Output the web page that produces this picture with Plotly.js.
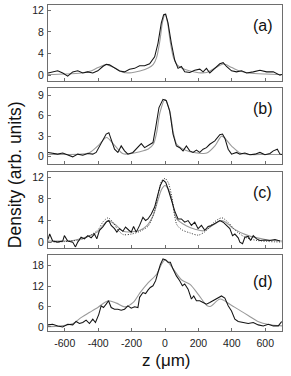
<!DOCTYPE html>
<html><head><meta charset="utf-8">
<script src="https://cdn.plot.ly/plotly-3.0.1.min.js"></script>
<style>html,body{margin:0;padding:0;background:#fff;}#g{width:291px;height:376px;}</style>
</head><body><div id="g"></div>
<script>
// x tick values / labels
const xTickVals = [-600,-400,-200,0,200,400,600];
const xTickText = ["-600","-400","-200","0","200","400","600"];
const panelLabels = ["(a)","(b)","(c)","(d)"];
const yTicksA = [0,4,8,12], yTicksB = [0,3,6,9], yTicksC = [0,4,8,12], yTicksD = [0,6,12,18];

// Panel (a)
const zA = [-700,-672,-642,-612,-582,-552,-522,-492,-462,-432,-402,-372,-352,-332,-302,-272,-242,-212,-182,-152,-122,-92,-62,-42,-22,-8,4,18,38,58,78,98,118,148,178,208,228,248,268,298,328,348,368,398,428,458,488,528,568,608,648,688,700];
const dA = [0.4,0.6,0.8,0.4,-0.2,0.6,0.8,0.4,0.6,0.4,0.8,1.6,2.0,1.9,1.25,0.75,0.6,1.1,1.25,1.75,1.75,2.1,3.4,5.9,9.7,11.2,11.3,9.7,5.9,2.8,1.25,1.6,0.6,0.5,0.9,1.1,0.6,1.25,0.4,1.25,2.1,2.3,1.6,0.8,0.6,0.8,0.4,0.6,0.9,0.6,0.6,0.0,0.1];
const zAfit = [-700,-600,-500,-450,-400,-350,-300,-250,-200,-150,-100,-70,-50,-30,-15,0,15,30,50,70,100,150,200,250,300,350,400,450,500,600,700];
const fA = [0.1,0.2,0.4,0.7,1.4,1.95,1.3,0.5,0.45,0.75,1.3,2.0,3.3,6.5,9.8,11.3,9.8,6.5,3.3,2.0,1.3,0.75,0.45,0.5,1.3,2.05,1.4,0.7,0.4,0.2,0.1];

// Panel (b)
const zB = [-700,-672,-642,-612,-582,-552,-522,-492,-462,-432,-412,-382,-352,-336,-322,-302,-282,-262,-242,-222,-192,-162,-142,-122,-92,-72,-56,-36,-12,8,28,48,68,88,108,128,148,168,188,208,228,248,268,298,328,344,358,378,398,428,448,478,508,538,568,598,628,648,672,688,700];
const dB = [0.6,0.45,0.35,0.5,0.25,-0.05,0.35,0.2,0.45,0.35,0.6,2.05,3.3,3.5,2.5,1.07,0.6,1.56,0.83,0.35,0.6,1.3,1.9,1.3,1.8,2.05,4.2,7.2,8.4,8.2,6.7,3.3,1.56,1.3,0.83,1.56,0.83,0.6,0.93,0.6,1.07,1.3,1.8,2.3,3.2,3.3,2.7,1.07,0.35,0.6,0.35,0.5,0.25,0.35,0.6,0.25,0.45,0.83,1.07,0.35,0.3];
const zBfit = [-700,-600,-500,-450,-400,-350,-300,-250,-200,-150,-100,-70,-50,-30,0,30,50,70,100,150,200,250,300,340,400,450,500,600,700];
const fB = [0.3,0.3,0.35,0.6,1.6,2.8,1.6,0.4,0.45,0.7,1.1,1.8,3.5,6.5,8.4,6.5,3.5,1.8,1.2,0.7,0.5,0.5,1.6,3.0,1.5,0.5,0.3,0.3,0.3];

// Panel (c)
const zC = [-700,-690,-672,-642,-612,-602,-582,-552,-536,-522,-502,-482,-462,-442,-422,-408,-392,-372,-352,-336,-322,-302,-288,-272,-252,-236,-216,-202,-188,-172,-152,-132,-116,-102,-82,-62,-42,-28,-12,4,18,38,58,78,98,118,138,158,178,198,218,238,258,278,298,328,348,368,388,404,418,438,448,464,478,498,512,528,548,568,598,628,658,688];
const dC = [0.5,1.5,0.2,0,0.2,1.2,0.2,0,-0.9,0,0.9,0.6,1.2,0.8,1.5,0.6,2.2,2.8,3.7,4.0,3.1,2.5,1.85,2.5,2.0,2.8,2.2,1.85,2.9,1.85,3.1,4.6,4.0,4.3,5.2,6.5,8.9,10.5,11.5,11.1,9.9,7.7,5.8,4.3,4.3,3.7,4.0,3.1,3.7,2.5,3.1,2.2,2.9,3.1,3.5,4.0,3.7,3.1,2.5,1.2,1.5,0.8,0,-0.3,0.9,1.05,0.3,1.2,0.6,0.3,0.4,0.3,0.5,0.2];
const zCfit = [-700,-600,-550,-450,-400,-360,-340,-300,-250,-200,-150,-110,-70,-40,-20,0,20,40,70,130,180,230,290,340,380,410,490,600,700];
const fC = [0.2,0.2,0.3,1.2,2.0,3.5,4.0,3.3,2.0,1.9,2.2,3.0,5.0,8.0,9.8,10.5,9.8,8.0,4.3,3.0,2.4,2.1,3.2,4.0,3.3,2.5,1.3,0.5,0.2];
const zCdot = [-700,-600,-500,-450,-400,-370,-340,-310,-280,-250,-200,-150,-100,-60,-40,-20,0,20,40,70,100,150,200,250,290,340,380,420,480,550,700];
const gC = [0,0.1,0.5,1.2,2.3,3.8,4.5,3.6,2.2,1.4,1.5,2.0,3.0,6,9,11.3,11.8,11,8.5,3.3,2.3,1.7,1.3,2.2,3.6,4.5,3.6,2.2,0.9,0.3,0];

// Panel (d)
const zD = [-700,-672,-642,-612,-582,-552,-532,-512,-492,-472,-452,-432,-416,-396,-382,-368,-352,-338,-322,-302,-282,-262,-242,-222,-202,-182,-162,-152,-132,-116,-102,-88,-72,-56,-42,-28,-12,4,18,32,48,68,88,104,118,138,158,172,188,208,228,248,268,288,308,338,358,378,398,418,438,468,498,528,558,588,618,648,678,698];
const dD = [0.6,0.8,0.3,0,0.8,0.6,1.6,1.0,1.3,2.0,1.0,2.3,1.3,3.7,6.2,5.7,6.7,7.7,5.7,5.2,5.2,4.9,5.2,6.2,5.5,5.9,5.7,8.7,10.1,9.8,10.8,11.6,12.1,13.6,16.0,18.3,20.0,19.7,19.0,19.0,17.0,15.0,13.6,12.1,12.6,11.1,8.2,9.1,7.7,7.7,7.2,6.7,7.2,7.7,8.2,9.1,8.5,6.2,4.7,2.3,1.6,1.3,1.0,1.3,0.6,0.3,0.8,0.3,0.3,1.6];
const zDfit = [-700,-620,-550,-500,-450,-400,-340,-290,-240,-190,-150,-100,-50,-20,0,20,50,100,150,200,250,270,330,390,450,500,560,620,700];
const fD = [0.1,0.3,1.0,2.8,4.3,5.8,7.7,7.0,5.9,7.2,10.0,13.0,15.5,18.5,19.7,19.0,17.0,13.8,12.5,9.5,6.3,6.0,8.2,6.6,4.8,3.3,1.5,0.7,0.3];

const BLACK = '#141414', GRAY = '#9a9a9a', FRAME = '#6e6e6e';
function dataLine(x, y, ax){ return {x:x, y:y, xaxis:'x'+ax, yaxis:'y'+ax, mode:'lines', line:{color:BLACK, width:1.05}, hoverinfo:'skip'}; }
function fitLine(x, y, ax){ return {x:x, y:y, xaxis:'x'+ax, yaxis:'y'+ax, mode:'lines', line:{color:GRAY, width:1.1, shape:'spline', smoothing:0.8}, hoverinfo:'skip'}; }

const traces = [
  fitLine(zAfit, fA, ''), dataLine(zA, dA, ''),
  fitLine(zBfit, fB, '2'), dataLine(zB, dB, '2'),
  fitLine(zCfit, fC, '3'),
  {x:zCdot, y:gC, xaxis:'x3', yaxis:'y3', mode:'lines', line:{color:'#333', width:1, dash:'1px,1.6px', shape:'spline', smoothing:0.8}, hoverinfo:'skip'},
  dataLine(zC, dC, '3'),
  fitLine(zDfit, fD, '4'), dataLine(zD, dD, '4')
];

const tickFont = {family:'Liberation Sans, Arial, sans-serif', size:10.5, color:'#222'};
function xax(anchor, showLabels){
  return {domain:[0,1], anchor:anchor, range:[-700,700], tickmode:'array', tickvals:xTickVals, ticktext:xTickText,
    showticklabels:showLabels, ticks:'inside', ticklen:3, tickcolor:FRAME, showline:true, mirror:true, linecolor:FRAME, linewidth:1,
    showgrid:false, zeroline:false, tickfont:tickFont, ticklabelstandoff:2};
}
function yax(anchor, dom, range, vals){
  return {domain:dom, anchor:anchor, range:range, tickmode:'array', tickvals:vals, ticks:'inside', ticklen:3, tickcolor:FRAME,
    showline:true, mirror:true, linecolor:FRAME, linewidth:1, showgrid:false, zeroline:false, tickfont:tickFont, ticklabelstandoff:1};
}

const labelY = [0.73, 0.735, 0.73, 0.66];
const annotations = panelLabels.map((t,i)=>({text:t, xref:(i===0?'x':'x'+(i+1))+' domain', yref:(i===0?'y':'y'+(i+1))+' domain',
  x:0.918, y:labelY[i], xanchor:'center', yanchor:'middle', showarrow:false, font:{family:'Liberation Sans, Arial, sans-serif', size:16, color:'#111'}}));
annotations.push({text:'Density (arb. units)', xref:'paper', yref:'paper', x:-0.141, y:0.478, textangle:-90, xanchor:'center', yanchor:'middle',
  showarrow:false, font:{family:'Liberation Sans, Arial, sans-serif', size:17.5, color:'#111'}});
annotations.push({text:'z (\u03bcm)', xref:'paper', yref:'paper', x:0.505, y:-0.092, xanchor:'center', yanchor:'middle',
  showarrow:false, font:{family:'Liberation Sans, Arial, sans-serif', size:17, color:'#111'}});

const layout = {
  width:291, height:376, margin:{l:48, r:9, t:5, b:45}, showlegend:false,
  paper_bgcolor:'#fff', plot_bgcolor:'#fff',
  xaxis: xax('y', false), xaxis2: xax('y2', false), xaxis3: xax('y3', false), xaxis4: xax('y4', true),
  yaxis: yax('x', [0.7684,1], [-1,13], yTicksA),
  yaxis2: yax('x2', [0.5123,0.7439], [-1.1,10], yTicksB),
  yaxis3: yax('x3', [0.2561,0.4877], [-1,13], yTicksC),
  yaxis4: yax('x4', [0,0.2316], [-1.2,21], yTicksD),
  annotations: annotations
};
Plotly.newPlot('g', traces, layout, {staticPlot:true, displayModeBar:false});
</script></body></html>
